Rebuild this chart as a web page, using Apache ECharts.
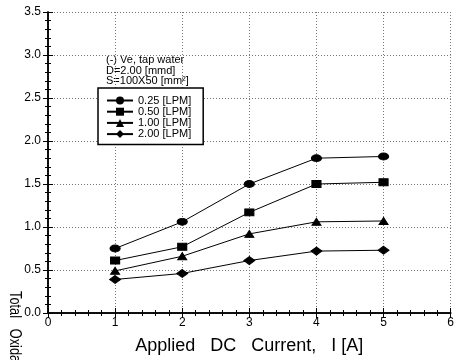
<!DOCTYPE html>
<html>
<head>
<meta charset="utf-8">
<script src="https://cdn.jsdelivr.net/npm/echarts@6/dist/echarts.min.js"></script>
<style>
  html, body { margin: 0; padding: 0; background: #fff; }
  #chart { width: 457px; height: 360px; }
</style>
</head>
<body>
<div id="chart"></div>
<script>
// 施加电流 I [A]
const currents = [1, 2, 3, 4, 5];

// 各流量下的总氧化剂浓度
const flowNames = ['0.25 [LPM]', '0.50 [LPM]', '1.00 [LPM]', '2.00 [LPM]'];
const flow025 = [0.75, 1.06, 1.50, 1.80, 1.82];
const flow050 = [0.61, 0.77, 1.17, 1.50, 1.52];
const flow100 = [0.49, 0.66, 0.92, 1.06, 1.07];
const flow200 = [0.39, 0.46, 0.61, 0.72, 0.73];

const symbols = ['circle', 'rect', 'triangle', 'diamond'];
const symbolSizes = [[10, 7], [9, 7], [9, 7], [11, 8]];
const seriesValues = [flow025, flow050, flow100, flow200];

const font = 'Liberation Sans, Arial, sans-serif';

function pairUp(values) {
    return currents.map((x, i) => [x, values[i]]);
}

const chart = echarts.init(document.getElementById('chart'));

// 共用的坐标轴样式（刻度向内）
const tickStyle = {
    axisLine: { show: true, lineStyle: { color: '#000', width: 1.5 } },
    axisTick: { show: true, inside: true, length: 5, lineStyle: { color: '#000' } },
    minorTick: { show: true, splitNumber: 5, length: 3, lineStyle: { color: '#000' } }
};

const gridLine = { show: true, lineStyle: { color: '#777', type: [1, 2], width: 1 } };

const option = {
    animation: false,
    backgroundColor: '#fff',
    grid: { left: 48, right: 5, top: 12, bottom: 46 },
    xAxis: [
        {
            type: 'value', min: 0, max: 6, interval: 1,
            ...tickStyle,
            axisLabel: { color: '#000', fontSize: 12, fontFamily: font, margin: 4 },
            splitLine: gridLine,
            name: 'Applied   DC   Current,   I [A]',
            nameLocation: 'middle',
            nameGap: 24,
            nameTextStyle: { color: '#000', fontSize: 18, fontFamily: font }
        },
        {
            type: 'value', min: 0, max: 6, interval: 1, position: 'top',
            ...tickStyle,
            axisLabel: { show: false },
            splitLine: { show: false }
        }
    ],
    yAxis: [
        {
            type: 'value', min: 0, max: 3.5, interval: 0.5,
            ...tickStyle,
            axisLabel: {
                color: '#000', fontSize: 12, fontFamily: font, margin: 7,
                formatter: v => v.toFixed(1)
            },
            splitLine: gridLine
        },
        {
            type: 'value', min: 0, max: 3.5, interval: 0.5, position: 'right',
            ...tickStyle,
            axisLabel: { show: false },
            splitLine: { show: false }
        }
    ],
    legend: {
        orient: 'vertical',
        left: 98,
        top: 88,
        padding: [7, 12, 5, 8],
        itemGap: 0.2,
        itemWidth: 26,
        itemHeight: 10,
        borderColor: '#000',
        borderWidth: 1.5,
        borderRadius: 0,
        backgroundColor: '#fff',
        data: flowNames,
        textStyle: { color: '#000', fontSize: 11, fontFamily: font, lineHeight: 10 }
    },
    graphic: [
        {
            type: 'text', left: 106, top: 54,
            style: { text: '(-) Ve, tap water', fill: '#000', font: '11px ' + font }
        },
        {
            type: 'text', left: 106, top: 65,
            style: { text: 'D=2.00 [mmd]', fill: '#000', font: '11px ' + font }
        },
        {
            type: 'text', left: 106, top: 75,
            style: { text: 'S=100X50 [mm²]', fill: '#000', font: '11px ' + font }
        },
        {
            type: 'text', x: 22, y: 291, rotation: -Math.PI / 2, scaleX: 0.8,
            style: {
                text: 'Total   Oxidant   Concentration',
                fill: '#000', font: '16px ' + font,
                textAlign: 'left', textVerticalAlign: 'top'
            }
        }
    ],
    series: seriesValues.map((values, i) => ({
        name: flowNames[i],
        type: 'line',
        xAxisIndex: 0,
        yAxisIndex: 0,
        data: pairUp(values),
        symbol: symbols[i],
        symbolSize: symbolSizes[i],
        showAllSymbol: true,
        lineStyle: { color: '#000', width: 1 },
        itemStyle: { color: '#000', borderColor: '#000' }
    }))
};

chart.setOption(option);
</script>
</body>
</html>
